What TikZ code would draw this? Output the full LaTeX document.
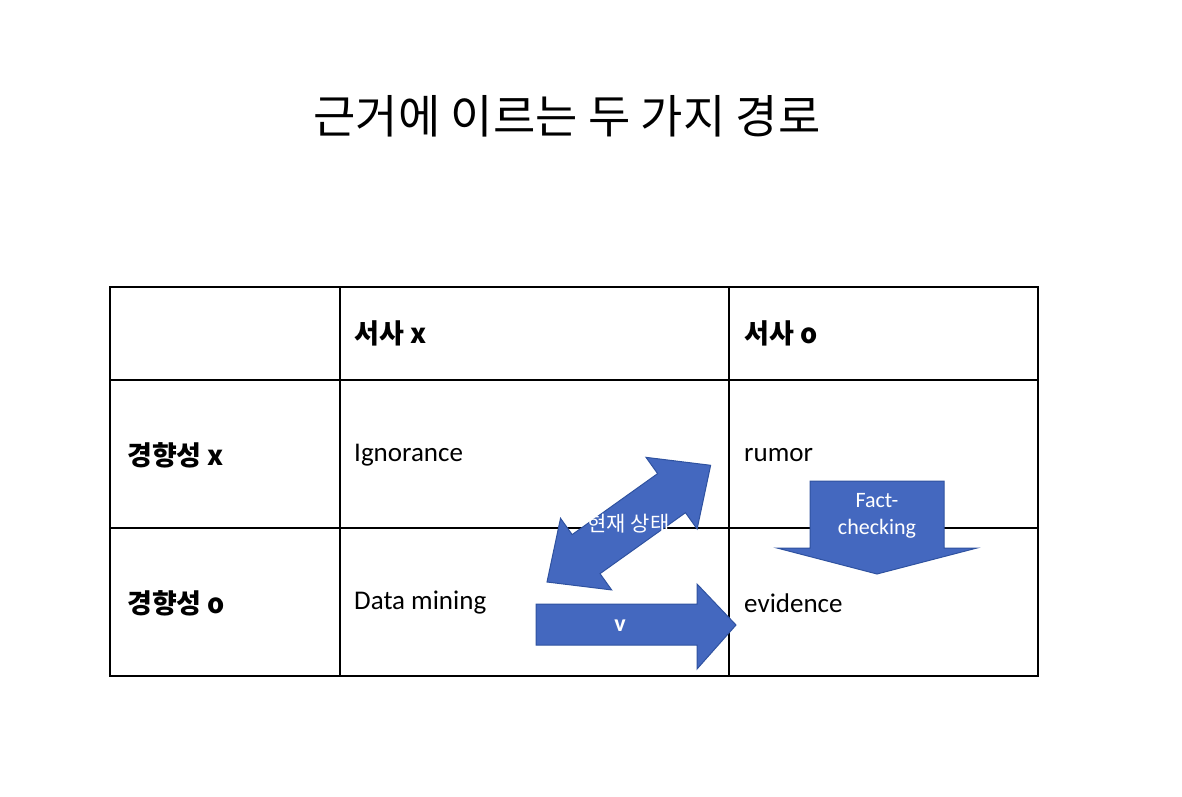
\documentclass[tikz,border=0pt]{standalone}
\usepackage{fontspec}
\setmainfont{Carlito}
\newfontfamily\cjk{Noto Sans CJK KR}
\begin{document}
\begin{tikzpicture}[x=1pt,y=1pt,
  cell/.style={anchor=west,inner sep=0pt,font=\fontsize{27}{30}\selectfont},
  hcell/.style={anchor=west,inner sep=0pt,font=\cjk\bfseries\fontsize{27}{30}\selectfont},
  blk/.style={fill=blue!45!black!30!cyan!0!, fill={rgb,255:red,68;green,104;blue,191}, draw={rgb,255:red,47;green,82;blue,160}, line width=1pt},
  wt/.style={text=white,inner sep=0pt}]
\useasboundingbox (0,0) rectangle (1182,796);
\node[font=\cjk\fontsize{46}{50}\selectfont,inner sep=0pt] (title) at (567,680) {근거에 이르는 두 가지 경로};
% table
\draw[line width=1.5pt] (110,120) rectangle (1038,509);
\foreach \x in {340,729} \draw[line width=1.5pt] (\x,120) -- (\x,509);
\foreach \y in {416,268} \draw[line width=1.5pt] (110,\y) -- (1038,\y);
\node[hcell] (h1) at (354,463) {서사 x};
\node[hcell] (h2) at (744,463) {서사 o};
\node[hcell] (r1) at (127,341) {경향성 x};
\node[hcell] (r2) at (127,193) {경향성 o};
\node[cell] (c11) at (354,341) {Ignorance};
\node[cell] (c12) at (744,341) {rumor};
\node[cell] (c21) at (354,193) {Data mining};
\node[cell] (c22) at (744,193) {evidence};
% right arrow
\draw[blk] (536,192) -- (697,192) -- (697,212) -- (736,171) -- (697,127) -- (697,151) -- (536,151) -- cycle;
\node[wt,font=\bfseries\fontsize{24}{26}\selectfont] (v) at (620,170) {v};
% down arrow
\draw[blk] (810,315) -- (944,315) -- (944,248) -- (977,248) -- (877,222) -- (777,248) -- (810,248) -- cycle;
\node[wt,align=center,font=\fontsize{22}{27}\selectfont] (fc) at (877,280) {Fact-\\checking};
% double arrow
\begin{scope}[shift={(547,214)},rotate=35.5]
\draw[blk] (0,0) -- (48,44) -- (48,24) -- (153,24) -- (153,44) -- (201,0) -- (153,-44) -- (153,-24) -- (48,-24) -- (48,-44) -- cycle;
\node[wt,font=\cjk\fontsize{21}{24}\selectfont] (cur) at (100,0) {현재 상태};
\end{scope}
\end{tikzpicture}
\end{document}
